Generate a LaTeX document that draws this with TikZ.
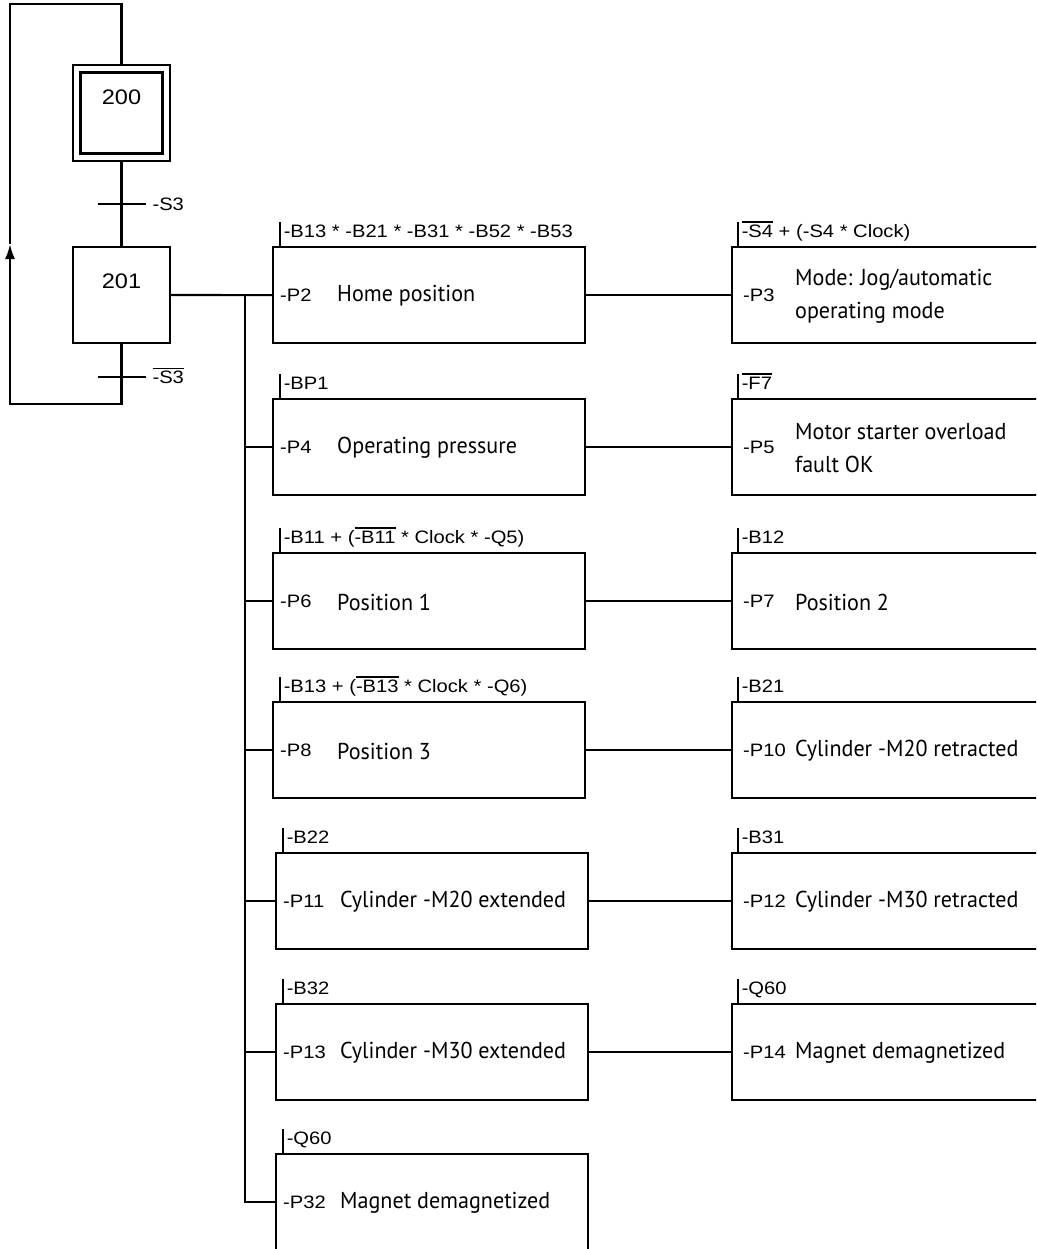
\documentclass[tikz,border=0pt]{standalone}
\usepackage{fontspec}
\usepackage{tikz}
\usetikzlibrary{arrows.meta,calc,positioning}
\newfontfamily\arialfont[FakeStretch=1.12]{Liberation Sans}
\newfontfamily\dinfont[FakeStretch=0.96]{PT Sans}
\newcommand\negbar[1]{\vbox{\hrule height 1.5pt\kern 1.8pt\hbox{#1}}}

\begin{document}
\begin{tikzpicture}[x=1pt, y=-1pt,
    link/.style={line width=2.1pt},
    tick/.style={line width=1.5pt},
    stepbox/.style={draw, line width=2.2pt, minimum width=97pt, minimum height=96pt, inner sep=0pt},
    actbox/.style={draw, line width=2.2pt, anchor=north west, minimum height=96pt, inner sep=0pt},
    lbl/.style={font=\arialfont\fontsize{18}{22}\selectfont, inner sep=0pt},
    stepno/.style={font=\arialfont\fontsize{21}{24}\selectfont, inner sep=0pt},
    desc/.style={font=\dinfont\fontsize{23}{33}\selectfont, inner sep=0pt, align=left, anchor=west}]
    \useasboundingbox (0,0) rectangle (1036,1249);
    \clip (0,0) rectangle (1036,1249);
    % steps 200 (initial) and 201
    \node[stepbox] (s200) at (121.5,113) {};
    \node[draw, line width=2.2pt, minimum width=82pt, minimum height=81pt, inner sep=0pt] (s200in) at (121.5,113) {};
    \node[stepno] (n200) at ([yshift=-33pt]s200.north) {200};
    \node[stepbox] (s201) at (121.5,295) {};
    \node[stepno] (n201) at ([yshift=-35pt]s201.north) {201};
    % transitions and return loop
    \coordinate (t1) at (121.5,204);
    \coordinate (t2) at (121.5,377);
    \coordinate (lpb) at (121.5,404);
    \coordinate (lpl) at (10,404);
    \coordinate (arr) at (10,244);
    \coordinate (lptl) at (10,4);
    \coordinate (lptr) at (121.5,4);
    \draw[link] (s200.south) -- (s201.north);
    \draw[link] ([xshift=-24pt]t1) -- ([xshift=24pt]t1) node[lbl, anchor=base west, xshift=6pt, yshift=-6.5pt] (c200) {-S3};
    \draw[link] ([xshift=-24pt]t2) -- ([xshift=24pt]t2) node[lbl, anchor=base west, xshift=6pt, yshift=-6.5pt] (c201) {\negbar{-S3}};
    \draw[link, -{Latex[length=15pt, width=10pt]}] (s201.south) -- (lpb) -- (lpl) -- (arr);
    \draw[link] (arr) -- (lptl) -- (lptr) -- (s200.north);
    % actions, left column
    \foreach \nm/\ty/\lx/\pid/\txt/\cnd in {
        p2/246/272/-P2/Home position/{-B13 * -B21 * -B31 * -B52 * -B53},
        p4/398/272/-P4/Operating pressure/-BP1,
        p6/552/272/-P6/Position 1/{-B11 + (\negbar{-B11} * Clock * -Q5)},
        p8/701/272/-P8/Position 3/{-B13 + (\negbar{-B13} * Clock * -Q6)},
        p11/852/275/-P11/{Cylinder -M20 extended}/-B22,
        p13/1003/275/-P13/{Cylinder -M30 extended}/-B32,
        p32/1153/275/-P32/Magnet demagnetized/-Q60}{
        \node[actbox, minimum width=312pt] (\nm) at (\lx,\ty) {};
        \node[lbl, anchor=west] (\nm-id) at ([xshift=8pt]\nm.west) {\pid};
        \node[desc] (\nm-txt) at ([xshift=65pt, yshift=-1pt]\nm.west) {\txt};
        \draw[tick] ([xshift=8pt]\nm.north west) -- ++(0pt,24pt)
            node[lbl, anchor=base west, xshift=3pt, yshift=-15pt] (\nm-cond) {\cnd};
    }
    % actions, right column
    \foreach \nm/\ty/\pid/\txt/\cnd in {
        p3/246/-P3/{Mode: Jog/automatic\\operating mode}/{\negbar{-S4} + (-S4 * Clock)},
        p5/398/-P5/{Motor starter overload\\fault OK}/{\negbar{-F7}},
        p7/552/-P7/Position 2/-B12,
        p10/701/-P10/{Cylinder -M20 retracted}/-B21,
        p12/852/-P12/{Cylinder -M30 retracted}/-B31,
        p14/1003/-P14/Magnet demagnetized/-Q60}{
        \node[actbox, minimum width=340pt] (\nm) at (731,\ty) {};
        \node[lbl, anchor=west] (\nm-id) at ([xshift=12pt]\nm.west) {\pid};
        \node[desc] (\nm-txt) at ([xshift=64pt, yshift=-1pt]\nm.west) {\txt};
        \draw[tick] ([xshift=7pt]\nm.north west) -- ++(0pt,24pt)
            node[lbl, anchor=base west, xshift=3pt, yshift=-15pt] (\nm-cond) {\cnd};
    }
    % connections
    \coordinate (bus) at (245,295);
    \draw[link] (s201.east) -- (p2.west);
    \draw[link] (bus) |- (p32.west);
    \foreach \nm in {p4,p6,p8,p11,p13} \draw[link] (bus |- \nm.west) -- (\nm.west);
    \foreach \a/\b in {p2/p3,p4/p5,p6/p7,p8/p10,p11/p12,p13/p14} \draw[link] (\a.east) -- (\b.west);
\end{tikzpicture}
\end{document}
